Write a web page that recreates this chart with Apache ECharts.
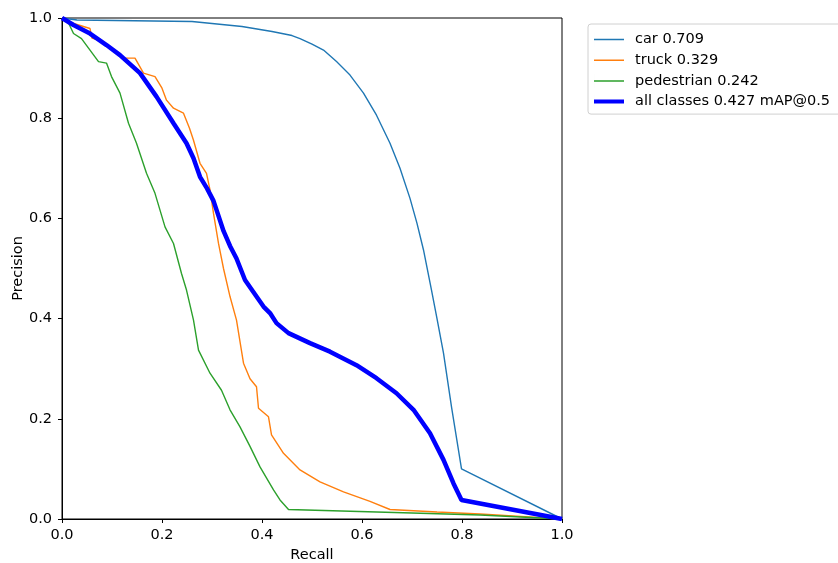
<!DOCTYPE html>
<html><head><meta charset="utf-8">
<script src="https://cdn.jsdelivr.net/npm/echarts@6/dist/echarts.min.js"></script>
<style>html,body{margin:0;padding:0;background:#fff}#c{width:838px;height:563px}</style>
</head><body><div id="c"></div>
<script>
const xTicks = [0, 0.2, 0.4, 0.6, 0.8, 1.0];
const yTicks = [0, 0.2, 0.4, 0.6, 0.8, 1.0];
const seriesNames = ['car 0.709', 'truck 0.329', 'pedestrian 0.242', 'all classes 0.427 mAP@0.5'];

const carRecall = [0, 0.03, 0.26, 0.36, 0.42, 0.46, 0.476, 0.5, 0.523, 0.549, 0.576, 0.603, 0.629, 0.656, 0.676, 0.696, 0.71, 0.723, 0.739, 0.75, 0.763, 0.779, 0.799, 1.0];
const carPrecision = [1.0, 0.996, 0.993, 0.983, 0.973, 0.965, 0.959, 0.948, 0.936, 0.913, 0.886, 0.85, 0.806, 0.75, 0.7, 0.64, 0.59, 0.537, 0.457, 0.4, 0.331, 0.224, 0.1, 0.0];

const truckRecall = [0, 0.02, 0.056, 0.06, 0.075, 0.089, 0.11, 0.123, 0.146, 0.163, 0.186, 0.2, 0.209, 0.223, 0.243, 0.255, 0.263, 0.276, 0.289, 0.296, 0.303, 0.313, 0.323, 0.336, 0.349, 0.363, 0.376, 0.389, 0.393, 0.413, 0.419, 0.443, 0.476, 0.516, 0.563, 0.616, 0.656, 0.75, 0.836, 1.0];
const truckPrecision = [1.0, 0.99, 0.979, 0.96, 0.955, 0.946, 0.93, 0.92, 0.92, 0.89, 0.883, 0.86, 0.836, 0.82, 0.81, 0.78, 0.756, 0.71, 0.69, 0.657, 0.61, 0.55, 0.5, 0.444, 0.397, 0.311, 0.28, 0.264, 0.221, 0.204, 0.168, 0.131, 0.098, 0.074, 0.054, 0.035, 0.019, 0.014, 0.01, 0.0];

const pedRecall = [0, 0.013, 0.023, 0.039, 0.056, 0.073, 0.089, 0.099, 0.116, 0.133, 0.149, 0.169, 0.186, 0.206, 0.223, 0.239, 0.249, 0.263, 0.273, 0.296, 0.319, 0.336, 0.356, 0.376, 0.396, 0.423, 0.436, 0.453, 0.7, 0.836, 1.0];
const pedPrecision = [1.0, 0.99, 0.969, 0.959, 0.936, 0.913, 0.91, 0.883, 0.85, 0.79, 0.75, 0.69, 0.65, 0.583, 0.55, 0.49, 0.457, 0.397, 0.337, 0.291, 0.257, 0.218, 0.184, 0.145, 0.104, 0.058, 0.038, 0.019, 0.012, 0.008, 0.0];

const allRecall = [0, 0.023, 0.056, 0.089, 0.116, 0.156, 0.189, 0.223, 0.249, 0.263, 0.276, 0.29, 0.303, 0.313, 0.323, 0.336, 0.349, 0.366, 0.389, 0.403, 0.416, 0.429, 0.453, 0.496, 0.536, 0.589, 0.629, 0.669, 0.703, 0.736, 0.763, 0.783, 0.799, 1.0];
const allPrecision = [1.0, 0.986, 0.969, 0.946, 0.926, 0.89, 0.843, 0.79, 0.75, 0.72, 0.683, 0.66, 0.635, 0.605, 0.575, 0.545, 0.52, 0.477, 0.444, 0.424, 0.411, 0.391, 0.371, 0.351, 0.334, 0.307, 0.281, 0.251, 0.218, 0.171, 0.118, 0.071, 0.038, 0.0];

const pair = (xs, ys) => xs.map((x, i) => [x, ys[i]]);
const FONT = 'DejaVu Sans';
const chart = echarts.init(document.getElementById('c'), null, {renderer: 'canvas'});

const colors = ['#1f77b4', '#ff7f0e', '#2ca02c', '#0000ff'];
const widths = [1.4, 1.4, 1.4, 4.5];
const lineIcon = w => {
  const y0 = (14 - w) / 2;
  return 'path://M0 0h0.01v14h-0.01z M0 ' + y0 + 'h30v' + w + 'h-30z';
};

const mk = (i, data) => ({
  name: seriesNames[i], type: 'line', data, showSymbol: false, symbol: 'none', animation: false,
  lineStyle: {color: colors[i], width: widths[i]}, itemStyle: {color: colors[i]}
});

chart.setOption({
  animation: false,
  backgroundColor: '#fff',
  grid: {left: 62, right: 276, top: 18, bottom: 44, show: true, borderColor: '#000', borderWidth: 1, containLabel: false, outerBoundsMode: 'none'},
  legend: {
    orient: 'vertical', left: 588, top: 24,
    itemWidth: 30, itemHeight: 14, itemGap: 5.7,
    padding: [8, 14, 5, 6],
    borderColor: '#d0d0d0', borderWidth: 1, borderRadius: 3,
    textStyle: {fontFamily: FONT, fontSize: 14.5, color: '#000', padding: [0, 0, 0, 6]},
    data: seriesNames.map((n, i) => ({name: n, icon: lineIcon(widths[i] === 4.5 ? 4 : 1.5), itemStyle: {color: colors[i]}}))
  },
  xAxis: {
    type: 'value', min: 0, max: 1, interval: 0.2,
    name: 'Recall', nameLocation: 'middle', nameGap: 29,
    nameTextStyle: {fontFamily: FONT, fontSize: 14.5, color: '#000'},
    axisLine: {show: true, onZero: false, lineStyle: {color: '#000', width: 1}},
    axisTick: {show: true, inside: false, length: 4, lineStyle: {color: '#000'}},
    axisLabel: {fontFamily: FONT, fontSize: 14.5, color: '#000', margin: 9, formatter: v => v.toFixed(1)},
    splitLine: {show: false}
  },
  yAxis: {
    type: 'value', min: 0, max: 1, interval: 0.2,
    name: 'Precision', nameLocation: 'middle', nameGap: 36, nameRotate: 90, nameMoveOverlap: false,
    nameTextStyle: {fontFamily: FONT, fontSize: 14.5, color: '#000'},
    axisLine: {show: true, onZero: false, lineStyle: {color: '#000', width: 1}},
    axisTick: {show: true, inside: false, length: 4, lineStyle: {color: '#000'}},
    axisLabel: {fontFamily: FONT, fontSize: 14.5, color: '#000', margin: 10, formatter: v => v.toFixed(1)},
    splitLine: {show: false}
  },
  series: [
    mk(0, pair(carRecall, carPrecision)),
    mk(1, pair(truckRecall, truckPrecision)),
    mk(2, pair(pedRecall, pedPrecision)),
    mk(3, pair(allRecall, allPrecision))
  ]
});
</script></body></html>
